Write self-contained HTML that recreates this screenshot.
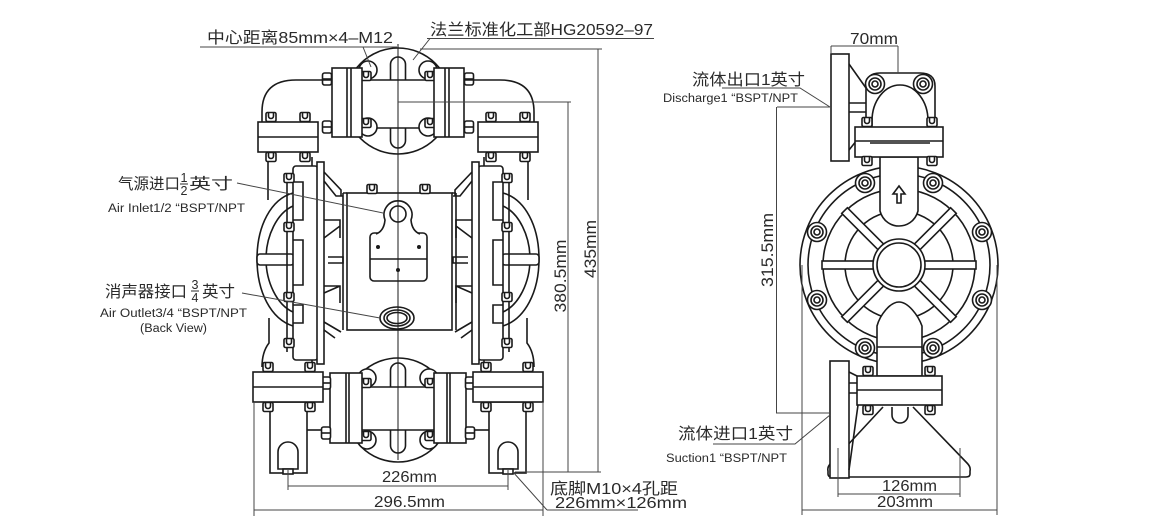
<!DOCTYPE html>
<html><head><meta charset="utf-8">
<style>
html,body{margin:0;padding:0;background:#fff;width:1150px;height:530px;overflow:hidden}
svg{display:block}
text{font-family:"Liberation Sans","Noto Sans CJK SC",sans-serif;fill:#2a2a2a;stroke:none}
.d{stroke:#444;stroke-width:1;fill:none}
</style></head><body>
<svg width="1150" height="530" viewBox="0 0 1150 530" xmlns="http://www.w3.org/2000/svg" xmlns:xlink="http://www.w3.org/1999/xlink">
<defs>
 <g id="nt"><rect x="-5" y="-4.5" width="10" height="9" rx="1.5"/><path d="M-2.5,-4.5 v3.5 a2.5,2.5 0 0 0 5,0 v-3.5" fill="none"/></g>
 <g id="bt"><rect x="-4.5" y="-6" width="9" height="12" rx="2"/><path d="M-4.5,0 h9" fill="none"/></g>
 <g id="br"><circle r="9.5"/><circle r="6" fill="none"/><circle r="3" fill="none"/></g>
</defs>

<!-- ============ LEFT VIEW: centre parts ============ -->
<g stroke="#1a1a1a" stroke-width="1.6" fill="#fff">
 <circle cx="398" cy="101" r="53"/>
 <rect x="390.5" y="57" width="15" height="91" rx="7.5"/>
 <rect x="362" y="80" width="72" height="48" stroke="none"/>
 <path d="M362,80 H434 M362,128 H434" fill="none"/>
 <circle cx="398" cy="410" r="52"/>
 <rect x="390.5" y="363" width="15" height="90" rx="7.5"/>
 <rect x="362" y="387" width="72" height="43" stroke="none"/>
 <path d="M362,387 H434 M362,430 H434" fill="none"/>
</g>

<!-- ============ LEFT VIEW: half (mirrored) ============ -->
<g id="lh" stroke="#1a1a1a" stroke-width="1.6" fill="#fff">
 <circle cx="368" cy="70" r="9"/>
 <circle cx="368" cy="127" r="9"/>
 <use href="#nt" x="366" y="76"/>
 <use href="#nt" x="366" y="123"/>
 <rect x="332" y="68" width="30" height="69"/>
 <path d="M347,68 V137 M351,68 V137" fill="none"/>
 <use href="#bt" x="327" y="79"/>
 <use href="#bt" x="327" y="127"/>
 <path d="M332,80 H296 Q262,80 262,112 V122" fill="none"/>
 <path d="M268,157 V200 M312,157 V166" fill="none"/>
 <rect x="258" y="122" width="60" height="30"/>
 <path d="M258,137 H318" fill="none"/>
 <use href="#nt" x="271" y="117"/>
 <use href="#nt" x="305" y="117"/>
 <use href="#nt" x="271" y="157"/>
 <use href="#nt" x="305" y="157"/>
 <path d="M293,193 C271,199 257,226 257,259 C257,292 271,319 293,326" fill="none"/>
 <path d="M293,206 C277,213 266,236 266,259 C266,282 277,305 293,312" fill="none"/>
 <rect x="257" y="254" width="37" height="11" rx="3"/>
 <path d="M287,173 V352" fill="none"/>
 <rect x="293" y="166" width="25" height="194" rx="3"/>
 <rect x="317" y="162" width="7" height="202"/>
 <path d="M293,182 H303 V220 H293 M293,240 H303 V285 H293 M293,305 H303 V323 H293" fill="none"/>
 <use href="#nt" x="289" y="178"/>
 <use href="#nt" x="289" y="227"/>
 <use href="#nt" x="289" y="297"/>
 <use href="#nt" x="289" y="343"/>
 <path d="M324,172 L341,190 V196 M324,181 L336,196 H343" fill="none"/>
 <path d="M324,220 H340 V238 M324,238 L340,226" fill="none"/>
 <path d="M328,257 H343 V263 H328" fill="none"/>
 <path d="M324,286 H340 V303 M324,293 L340,286" fill="none"/>
 <path d="M324,322 L341,332 M324,330 L335,338" fill="none"/>
 <path d="M269,318 V343 Q262,352 262,367" fill="none"/>
 <path d="M312,360 V367" fill="none"/>
 <circle cx="367" cy="378" r="9"/>
 <circle cx="367" cy="440" r="9"/>
 <use href="#nt" x="366" y="383"/>
 <use href="#nt" x="366" y="436"/>
 <rect x="330" y="373" width="32" height="70"/>
 <path d="M346,373 V443 M349,373 V443" fill="none"/>
 <use href="#bt" x="326" y="383"/>
 <use href="#bt" x="326" y="433"/>
 <path d="M307,430 H322" fill="none"/>
 <rect x="270" y="402" width="37" height="71"/>
 <path d="M278,469 V452 A10,10 0 0 1 298,452 V469 Z"/>
 <rect x="283" y="469" width="10" height="5"/>
 <rect x="253" y="372" width="70" height="30"/>
 <path d="M253,387 H323" fill="none"/>
 <use href="#nt" x="268" y="367"/>
 <use href="#nt" x="310" y="367"/>
 <use href="#nt" x="268" y="407"/>
 <use href="#nt" x="310" y="407"/>
</g>
<use href="#lh" transform="translate(796,0) scale(-1,1)"/>

<!-- ============ LEFT VIEW: body ============ -->
<g stroke="#1a1a1a" stroke-width="1.6" fill="#fff">
 <rect x="347" y="193" width="105" height="137"/>
 <path d="M343,193 V330 M456,193 V330 M343,193 H347 M452,193 H456" fill="none"/>
 <use href="#nt" x="372" y="189"/>
 <use href="#nt" x="425" y="189"/>
 <rect x="370" y="233" width="57" height="48" rx="4"/>
 <path d="M370,259 H427" fill="none"/>
 <path d="M376,234 Q384,231 385,220 A14,14 0 1 1 411,220 Q412,231 420,234"/>
 <circle cx="398" cy="214" r="8" fill="none"/>
 <circle cx="378" cy="247" r="2" fill="#1a1a1a" stroke="none"/>
 <circle cx="419" cy="247" r="2" fill="#1a1a1a" stroke="none"/>
 <circle cx="398" cy="270" r="2" fill="#1a1a1a" stroke="none"/>
 <ellipse cx="397" cy="318" rx="17" ry="11"/>
 <ellipse cx="397" cy="318" rx="13" ry="8" fill="none"/>
 <ellipse cx="397" cy="318" rx="10" ry="5.5" fill="none"/>
</g>
<path d="M398,44 V460" stroke="#1a1a1a" stroke-width="1"/>

<!-- ============ LEFT VIEW: labels & dims ============ -->
<text x="207" y="43" font-size="16" textLength="186" lengthAdjust="spacingAndGlyphs">中心距离85mm×4–M12</text>
<path class="d" d="M200,47 H397 M363,47 L371,67"/>
<text x="430" y="35" font-size="16" textLength="223" lengthAdjust="spacingAndGlyphs">法兰标准化工部HG20592–97</text>
<path class="d" d="M427,38.5 H654 M430,38.5 L413,60"/>

<text x="118" y="189" font-size="15.5" textLength="62" lengthAdjust="spacingAndGlyphs">气源进口</text>
<text x="184" y="182" font-size="12.5" text-anchor="middle">1</text>
<path d="M180,184 H188" stroke="#2a2a2a" stroke-width="1"/>
<text x="184" y="195" font-size="12.5" text-anchor="middle">2</text>
<text x="189" y="189" font-size="15.5" textLength="44" lengthAdjust="spacingAndGlyphs">英寸</text>
<text x="108" y="212" font-size="11.5" textLength="137" lengthAdjust="spacingAndGlyphs">Air Inlet1/2  “BSPT/NPT</text>
<path class="d" d="M237,183 L383,213"/>

<text x="105" y="297" font-size="16" textLength="82" lengthAdjust="spacingAndGlyphs">消声器接口</text>
<text x="195" y="289" font-size="12.5" text-anchor="middle">3</text>
<path d="M191,291 H199" stroke="#2a2a2a" stroke-width="1"/>
<text x="195" y="302" font-size="12.5" text-anchor="middle">4</text>
<text x="202" y="297" font-size="16" textLength="33" lengthAdjust="spacingAndGlyphs">英寸</text>
<text x="100" y="317" font-size="11.5" textLength="147" lengthAdjust="spacingAndGlyphs">Air Outlet3/4  “BSPT/NPT</text>
<text x="140" y="332" font-size="11.5" textLength="67" lengthAdjust="spacingAndGlyphs">(Back View)</text>
<path class="d" d="M242,293 L380,318"/>

<path class="d" d="M398,102 H571 M568,102 V472 M420,49 H602 M598,49 V472 M515,472 H601"/>
<text transform="translate(566,276) rotate(-90)" text-anchor="middle" font-size="16.5" textLength="73" lengthAdjust="spacingAndGlyphs">380.5mm</text>
<text transform="translate(596,249) rotate(-90)" text-anchor="middle" font-size="16.5" textLength="58" lengthAdjust="spacingAndGlyphs">435mm</text>

<path class="d" d="M288,470 V490 M508,470 V490 M288,486 H508"/>
<text x="382" y="482" font-size="16" textLength="55" lengthAdjust="spacingAndGlyphs">226mm</text>
<path class="d" d="M254,402 V516 M543,402 V516 M254,510 H543"/>
<text x="374" y="507" font-size="16" textLength="71" lengthAdjust="spacingAndGlyphs">296.5mm</text>
<path class="d" d="M547,510 H638 M547,510 L513,472"/>
<text x="550" y="494" font-size="16" textLength="128" lengthAdjust="spacingAndGlyphs">底脚M10×4孔距</text>
<text x="555" y="508" font-size="16" textLength="132" lengthAdjust="spacingAndGlyphs">226mm×126mm</text>

<!-- ============ RIGHT VIEW ============ -->
<g stroke="#1a1a1a" stroke-width="1.6" fill="#fff">
 <path d="M883,407 L831,463 Q827,467 828,471 V474 Q828,477 832,477 H966 Q970,477 970,474 V471 Q971,467 967,463 L913,407"/>
 <path d="M892,407 V415 A8,8 0 0 0 908,415 V407" fill="none"/>
 <rect x="830" y="361" width="19" height="117"/>
 <path d="M849,383 H857 M849,393 H857 M849,372 L857,376 M849,470 L858,405" fill="none"/>
 <circle cx="899" cy="265" r="99"/>
 <circle cx="899" cy="265" r="91" fill="none"/>
 <circle cx="899" cy="265" r="76" fill="none"/>
 <circle cx="899" cy="265" r="54" fill="none"/>
 <g transform="translate(899,265)">
  <rect x="24" y="-4" width="53" height="8"/>
  <rect x="24" y="-4" width="53" height="8" transform="rotate(180)"/>
  <rect x="24" y="-4" width="53" height="8" transform="rotate(45)"/>
  <rect x="24" y="-4" width="53" height="8" transform="rotate(135)"/>
  <rect x="24" y="-4" width="53" height="8" transform="rotate(225)"/>
  <rect x="24" y="-4" width="53" height="8" transform="rotate(315)"/>
 </g>
 <circle cx="899" cy="265" r="26"/>
 <circle cx="899" cy="265" r="22" fill="none"/>
 <path d="M880,157 V211 C883,222 892,226 899,226 C906,226 915,222 918,211 V157 Z"/>
 <path d="M899,186 L893,194 H897 V203 H901 V194 H905 Z" fill="none"/>
 <path d="M877,376 V326 C880,315 890,302 899,302 C908,302 918,315 922,326 V376 Z"/>
 <path d="M877,347 H922" fill="none"/>
 <use href="#br" x="865" y="183"/>
 <use href="#br" x="933" y="183"/>
 <use href="#br" x="817" y="232"/>
 <use href="#br" x="982" y="232"/>
 <use href="#br" x="817" y="300"/>
 <use href="#br" x="982" y="300"/>
 <use href="#br" x="865" y="348"/>
 <use href="#br" x="933" y="348"/>
 <rect x="857" y="376" width="85" height="29"/>
 <path d="M857,390 H942" fill="none"/>
 <use href="#nt" x="868" y="371"/>
 <use href="#nt" x="930" y="371"/>
 <use href="#nt" x="868" y="410"/>
 <use href="#nt" x="930" y="410"/>
 <!-- top manifold -->
 <rect x="831" y="54" width="18" height="107"/>
 <path d="M849,64 L866,88 M849,103 H866 M849,112 H866 M849,150 L857,140" fill="none"/>
 <path d="M866,127 V86 Q866,73 880,73 H920 Q935,73 935,86 V127"/>
 <path d="M872,127 V121 A28,36 0 0 1 928,121 V127" fill="none"/>
 <use href="#br" x="875" y="84"/>
 <use href="#br" x="923" y="84"/>
 <rect x="855" y="127" width="88" height="30"/>
 <path d="M855,141 H943 M870,143 H930" fill="none"/>
 <use href="#nt" x="867" y="122"/>
 <use href="#nt" x="932" y="122"/>
 <use href="#nt" x="867" y="161"/>
 <use href="#nt" x="932" y="161"/>
</g>

<!-- right labels & dims -->
<path class="d" d="M831,46 H898 M831,46 V54 M898,46 V73"/>
<text x="850" y="44" font-size="16" textLength="48" lengthAdjust="spacingAndGlyphs">70mm</text>
<text x="692" y="85" font-size="16" textLength="113" lengthAdjust="spacingAndGlyphs">流体出口1英寸</text>
<path class="d" d="M722,88 H800 L830,107 M777,107 H830 M776.5,107 V413 H830"/>
<text x="663" y="102" font-size="11.5" textLength="135" lengthAdjust="spacingAndGlyphs">Discharge1 “BSPT/NPT</text>
<text transform="translate(773,250) rotate(-90)" text-anchor="middle" font-size="16.5" textLength="74" lengthAdjust="spacingAndGlyphs">315.5mm</text>
<text x="678" y="439" font-size="16" textLength="115" lengthAdjust="spacingAndGlyphs">流体进口1英寸</text>
<path class="d" d="M713,444 H795 L830,415"/>
<text x="666" y="462" font-size="11.5" textLength="121" lengthAdjust="spacingAndGlyphs">Suction1 “BSPT/NPT</text>
<path class="d" d="M838,448 V497 M960,448 V497 M838,494 H960 M802,265 V515 M997,265 V515 M802,510 H997"/>
<text x="882" y="491" font-size="16" textLength="55" lengthAdjust="spacingAndGlyphs">126mm</text>
<text x="877" y="507" font-size="16" textLength="56" lengthAdjust="spacingAndGlyphs">203mm</text>
</svg>
</body></html>
